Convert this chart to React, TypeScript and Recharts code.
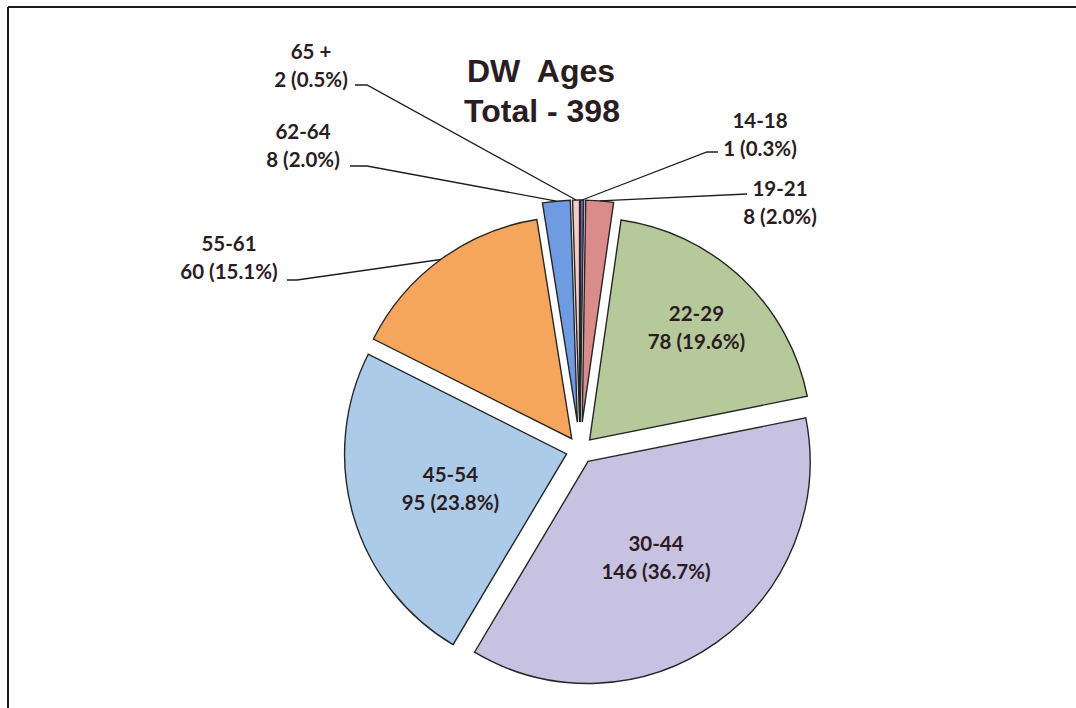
import { Pie, PieChart, Sector } from 'recharts';

const ageGroups = ['14-18', '19-21', '22-29', '30-44', '45-54', '55-61', '62-64', '65 +'];
const counts = [1, 8, 78, 146, 95, 60, 8, 2];
const percentText = ['0.3%', '2.0%', '19.6%', '36.7%', '23.8%', '15.1%', '2.0%', '0.5%'];
const totalCount = 398;

const sliceColors = ['#6f56b0', '#d98c8a', '#b6c99b', '#c7c2e2', '#abcbe9', '#f5a65c', '#6f9be2', '#f1cdc6'];
// how far each slice is pulled away from the centre
const explode = [28, 28, 14, 14, 14, 14, 28, 28];

const W = 1076;
const H = 708;
const CX = 575;
const CY = 445;
const R = 222;
const INK = '#2b1c22';
const FONT = 'Lato, "Open Sans", sans-serif';
const LABEL_SIZE = 20.5;

// inside labels: fraction of radius along the slice's mid angle
const insideAt: Record<number, number> = { 2: 0.7, 3: 0.53, 4: 0.545 };
// outside labels: text centre, first-line y, leader start and elbow
const outsideAt: Record<number, { x: number; y: number; lx: number; ly: number; ex: number }> = {
  0: { x: 760, y: 120, lx: 718, ly: 152, ex: 707 },
  1: { x: 780, y: 188, lx: 747, ly: 194, ex: 747 },
  5: { x: 229, y: 243, lx: 287, ly: 280, ex: 297 },
  6: { x: 303, y: 131, lx: 350, ly: 166, ex: 367 },
  7: { x: 311, y: 51, lx: 355, ly: 85, ex: 367 },
};

const data = ageGroups.map((name, i) => ({ name, value: counts[i], fill: sliceColors[i] }));

const RAD = Math.PI / 180;
const dir = (angle: number) => ({ x: Math.cos(-angle * RAD), y: Math.sin(-angle * RAD) });

function sliceIndex(p: any) {
  const n = p.name ?? p.payload?.name;
  return ageGroups.indexOf(n);
}

function ExplodedSlice(props: any) {
  const i = sliceIndex(props);
  const d = explode[i] ?? 0;
  const v = dir(props.midAngle);
  return <Sector {...props} cx={props.cx + d * v.x} cy={props.cy + d * v.y} />;
}

function TwoLines({ x, y, a, b }: { x: number; y: number; a: string; b: string }) {
  const common = {
    textAnchor: 'middle' as const,
    dominantBaseline: 'central' as const,
    fontFamily: FONT,
    fontWeight: 700,
    fontSize: LABEL_SIZE,
    fill: INK,
  };
  return (
    <>
      <text x={x} y={y} {...common}>{a}</text>
      <text x={x} y={y + 28} {...common}>{b}</text>
    </>
  );
}

function SliceLabel(props: any) {
  const i = sliceIndex(props);
  const { cx, cy, midAngle, outerRadius } = props;
  const v = dir(midAngle);
  const ox = cx + explode[i] * v.x;
  const oy = cy + explode[i] * v.y;
  const line2 = `${counts[i]} (${percentText[i]})`;
  if (insideAt[i] !== undefined) {
    const r = outerRadius * insideAt[i];
    return (
      <g>
        <TwoLines x={ox + r * v.x} y={oy + r * v.y - 14} a={ageGroups[i]} b={line2} />
      </g>
    );
  }
  const o = outsideAt[i];
  if (!o) return null;
  const tx = ox + outerRadius * v.x;
  const ty = oy + outerRadius * v.y;
  return (
    <g>
      <polyline points={`${o.lx},${o.ly} ${o.ex},${o.ly} ${tx},${ty}`} fill="none" stroke="#1e1e1e" strokeWidth={1.3} />
      <TwoLines x={o.x} y={o.y} a={ageGroups[i]} b={line2} />
    </g>
  );
}

export default function App() {
  return (
    <div style={{ position: 'absolute', left: 0, top: 0, width: W, height: H, background: '#fff' }}>
      <PieChart width={W} height={H}>
        <Pie
          data={data}
          dataKey="value"
          nameKey="name"
          cx={CX}
          cy={CY}
          outerRadius={R}
          startAngle={90}
          endAngle={-270}
          stroke="#262626"
          strokeWidth={1.4}
          shape={ExplodedSlice}
          label={SliceLabel}
          labelLine={false}
          isAnimationActive={false}
        />
      </PieChart>
      <svg width={W} height={H} style={{ position: 'absolute', left: 0, top: 0, pointerEvents: 'none' }}>
        <line x1={8} y1={7} x2={W} y2={7} stroke="#1c1c1c" strokeWidth={2} />
        <line x1={8} y1={7} x2={8} y2={H} stroke="#1c1c1c" strokeWidth={2} />
        <text x={541} y={82} textAnchor="middle" fontFamily='"Liberation Sans", Arial, sans-serif' fontWeight={700} fontSize={32} fill={INK} xmlSpace="preserve">
          {'DW  Ages'}
        </text>
        <text x={542} y={122} textAnchor="middle" fontFamily='"Liberation Sans", Arial, sans-serif' fontWeight={700} fontSize={32} fill={INK}>
          {`Total - ${totalCount}`}
        </text>
      </svg>
    </div>
  );
}
